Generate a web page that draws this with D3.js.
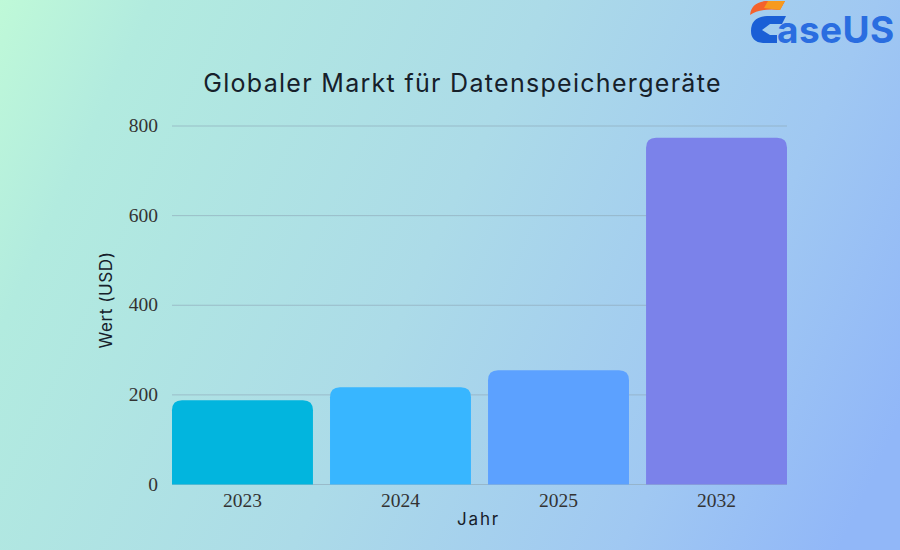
<!DOCTYPE html>
<html>
<head>
<meta charset="utf-8">
<script src="https://cdn.jsdelivr.net/npm/d3@7"></script>
<style>
  html, body { margin: 0; padding: 0; }
  svg { display: block; }
</style>
</head>
<body>
<svg width="900" height="550"></svg>
<script>
const years = ["2023", "2024", "2025", "2032"];
const values = [188, 217, 255, 774];
const barColors = ["#02b5de", "#38b6ff", "#5ca1ff", "#7b82ea"];
const yTicks = [0, 200, 400, 600, 800];

const svg = d3.select("svg");

// background
const defs = svg.append("defs");
const grad = defs.append("linearGradient")
  .attr("id", "bg")
  .attr("gradientUnits", "userSpaceOnUse")
  .attr("x1", 0).attr("y1", 0)
  .attr("x2", 900).attr("y2", 420);
grad.append("stop").attr("offset", "0").attr("stop-color", "#bff9d8");
grad.append("stop").attr("offset", "0.14").attr("stop-color", "#b2ebdf");
grad.append("stop").attr("offset", "0.5").attr("stop-color", "#acdbe8");
grad.append("stop").attr("offset", "0.8").attr("stop-color", "#a0c8f2");
grad.append("stop").attr("offset", "1").attr("stop-color", "#91b7f8");
svg.append("rect").attr("width", 900).attr("height", 550).attr("fill", "url(#bg)");

const x = d3.scaleBand().domain(years).range([172, 787]).paddingInner(0.108).paddingOuter(0);
const y = d3.scaleLinear().domain([0, 800]).range([484.5, 126]);

// grid lines
svg.append("g").selectAll("line")
  .data(yTicks)
  .enter()
  .append("line")
  .attr("x1", 172)
  .attr("x2", 787)
  .attr("y1", d => y(d))
  .attr("y2", d => y(d))
  .attr("stroke", "#8fa9b8")
  .attr("stroke-opacity", 0.65)
  .attr("stroke-width", 1);

// bars, rounded on top only
function barPath(d, i) {
  const r = 10;
  const x0 = x(years[i]);
  const x1 = x0 + x.bandwidth();
  const top = y(d);
  const bottom = y(0);
  return `M${x0},${bottom}V${top + r}Q${x0},${top} ${x0 + r},${top}H${x1 - r}Q${x1},${top} ${x1},${top + r}V${bottom}Z`;
}
svg.append("g").selectAll("path")
  .data(values)
  .enter()
  .append("path")
  .attr("d", barPath)
  .attr("fill", (d, i) => barColors[i]);

// tick labels
svg.append("g").selectAll("text")
  .data(yTicks)
  .enter()
  .append("text")
  .attr("x", 158)
  .attr("y", d => y(d) + 6)
  .attr("text-anchor", "end")
  .attr("font-family", "Liberation Serif")
  .attr("font-size", 19.5)
  .attr("fill", "#333")
  .text(d => d);

svg.append("g").selectAll("text")
  .data(years)
  .enter()
  .append("text")
  .attr("x", d => x(d) + x.bandwidth() / 2)
  .attr("y", 507)
  .attr("text-anchor", "middle")
  .attr("font-family", "Liberation Serif")
  .attr("font-size", 19.5)
  .attr("fill", "#333")
  .text(d => d);

// titles
svg.append("text")
  .attr("x", 462.5)
  .attr("y", 92)
  .attr("text-anchor", "middle")
  .attr("font-family", "Inter")
  .attr("font-size", 25)
  .attr("letter-spacing", 1.3)
  .attr("fill", "#16202a")
  .text("Globaler Markt für Datenspeichergeräte");

svg.append("text")
  .attr("x", 478.5)
  .attr("y", 525)
  .attr("text-anchor", "middle")
  .attr("font-family", "Inter")
  .attr("font-size", 17)
  .attr("letter-spacing", 1.8)
  .attr("fill", "#16202a")
  .text("Jahr");

svg.append("text")
  .attr("transform", "translate(112,300) rotate(-90)")
  .attr("text-anchor", "middle")
  .attr("font-family", "Inter")
  .attr("font-size", 17)
  .attr("letter-spacing", 0.6)
  .attr("fill", "#16202a")
  .text("Wert (USD)");

// logo
const logo = svg.append("g");
logo.append("path")
  .attr("d", "M750,15 Q751,3 765,1 L785,1 L780,10 Q760,8 750,15Z")
  .attr("fill", "#f4622c");
logo.append("path")
  .attr("d", "M768,1 L785,1 L780,10 L764,8Z")
  .attr("fill", "#f79a1e");
logo.append("path")
  .attr("d", "M751,31 Q751,17 767,16 H786 L782,24 H770 L762,30 L770,35 H777 L777,43 H763 Q751,42 751,31Z")
  .attr("fill", "#1a5fd6");
logo.append("text")
  .attr("x", 777)
  .attr("y", 43)
  .attr("font-family", "Inter")
  .attr("font-weight", 700)
  .attr("font-size", 37)
  .attr("letter-spacing", 0.4)
  .attr("fill", "#2a6de0")
  .text("aseUS");
</script>
</body>
</html>
